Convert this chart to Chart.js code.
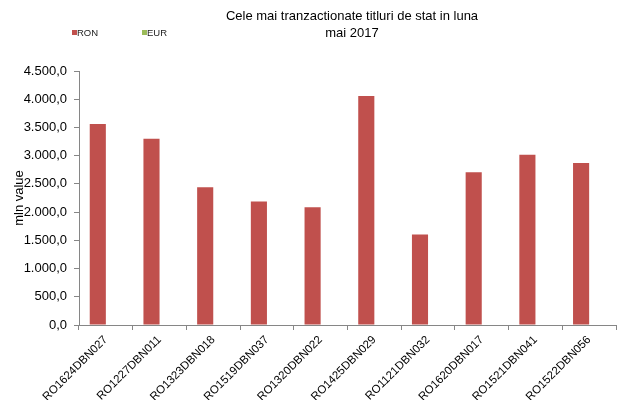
<!DOCTYPE html>
<html>
<head>
<meta charset="utf-8">
<script src="https://cdn.jsdelivr.net/npm/chart.js@4/dist/chart.umd.min.js"></script>
<style>
  body { margin: 0; background: #fff; }
  canvas { display: block; }
</style>
</head>
<body>
<canvas id="bondsChart" width="622" height="400"></canvas>
<script>
const categories = ['RO1624DBN027', 'RO1227DBN011', 'RO1323DBN018', 'RO1519DBN037', 'RO1320DBN022',
                    'RO1425DBN029', 'RO1121DBN032', 'RO1620DBN017', 'RO1521DBN041', 'RO1522DBN056'];
const ronValues = [3560, 3300, 2440, 2190, 2085, 4055, 1605, 2705, 3015, 2870];
const eurValues = [0, 0, 0, 0, 0, 0, 0, 0, 0, 0];
const titleLines = ['Cele mai tranzactionate titluri de stat in luna', 'mai 2017'];

const FONT = "'Liberation Sans', Arial, sans-serif";
const AXIS_GRAY = '#868686';

// 4500 -> "4.500,0"
function fmtRo(v) {
    const parts = v.toFixed(1).split('.');
    return parts[0].replace(/\B(?=(\d{3})+(?!\d))/g, '.') + ',' + parts[1];
}

// title + small legend in the top band, as in the original
const headerPlugin = {
    id: 'header',
    afterDraw(chart) {
        const ctx = chart.ctx;
        ctx.save();
        ctx.fillStyle = '#000';
        ctx.font = '13px ' + FONT;
        ctx.textAlign = 'center';
        ctx.textBaseline = 'middle';
        ctx.fillText(titleLines[0], 352, 16);
        ctx.fillText(titleLines[1], 352, 33);

        ctx.font = '9.5px ' + FONT;
        ctx.textAlign = 'left';
        let x = 72;
        chart.data.datasets.forEach(ds => {
            ctx.fillStyle = ds.backgroundColor;
            ctx.fillRect(x, 30, 5, 5);
            ctx.fillStyle = '#222';
            ctx.fillText(ds.label, x + 5, 33);
            x += 70;
        });
        ctx.restore();
    }
};

new Chart(document.getElementById('bondsChart'), {
    type: 'bar',
    data: {
        labels: categories,
        datasets: [
            { label: 'RON', data: ronValues, backgroundColor: '#C0504D', borderWidth: 0 },
            { label: 'EUR', data: eurValues, backgroundColor: '#9BBB59', borderWidth: 0 }
        ]
    },
    options: {
        responsive: false,
        animation: false,
        layout: { padding: { top: 71, right: 6, left: 0, bottom: 0 } },
        datasets: { bar: { categoryPercentage: 0.6, barPercentage: 1 } },
        plugins: {
            legend: { display: false },
            title: { display: false },
            tooltip: { enabled: false }
        },
        scales: {
            x: {
                afterFit: s => { s.height = 75; },
                border: { display: true, color: AXIS_GRAY },
                grid: { display: true, drawOnChartArea: false, tickLength: 5, color: AXIS_GRAY },
                ticks: {
                    minRotation: 45, maxRotation: 45, padding: 3,
                    color: '#000', font: { family: FONT, size: 11.5 }
                }
            },
            y: {
                min: 0, max: 4500,
                afterFit: s => { s.width = 79; },
                border: { display: true, color: AXIS_GRAY },
                grid: { display: true, drawOnChartArea: false, tickLength: 5, color: AXIS_GRAY },
                ticks: {
                    stepSize: 500, padding: 7,
                    color: '#000', font: { family: FONT, size: 13 },
                    callback: v => fmtRo(v)
                },
                title: {
                    display: true, text: 'mln value', color: '#000',
                    font: { family: FONT, size: 13 },
                    padding: { top: 12, bottom: 0 }
                }
            }
        }
    },
    plugins: [headerPlugin]
});
</script>
</body>
</html>
